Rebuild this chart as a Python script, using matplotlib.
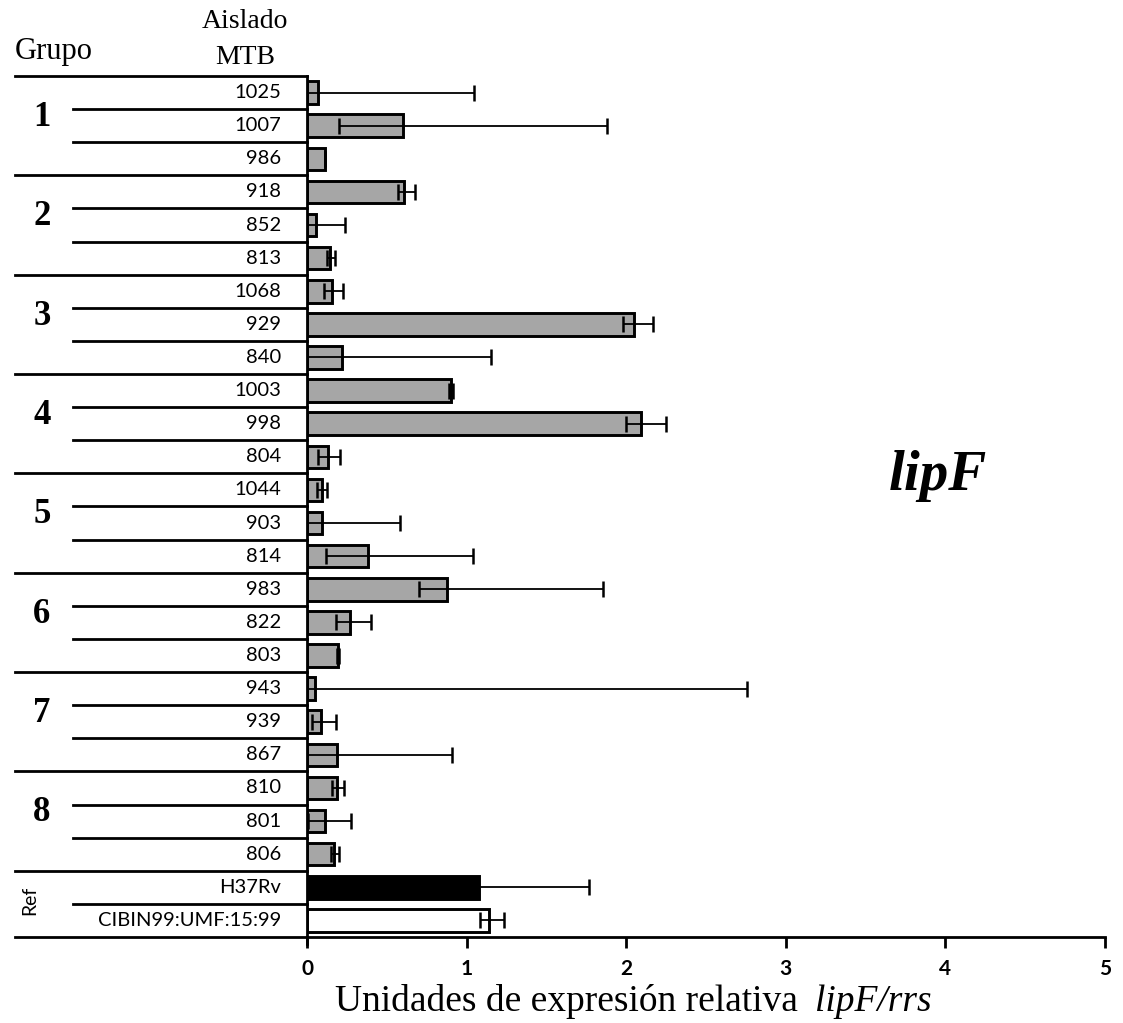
import matplotlib
matplotlib.use('Agg')
import matplotlib.pyplot as plt
import matplotlib.transforms as mtransforms
import numpy as np

# isolates, top to bottom
isolates = ['1025', '1007', '986', '918', '852', '813', '1068', '929', '840',
            '1003', '998', '804', '1044', '903', '814', '983', '822', '803',
            '943', '939', '867', '810', '801', '806', 'H37Rv', 'CIBIN99:UMF:15:99']
# relative expression lipF/rrs
values = [0.07, 0.60, 0.113, 0.61, 0.055, 0.146, 0.155, 2.05, 0.22,
          0.90, 2.095, 0.13, 0.092, 0.092, 0.384, 0.88, 0.267, 0.195,
          0.052, 0.085, 0.19, 0.19, 0.11, 0.17, 1.08, 1.142]
# error bar ends (low / high)
err_low = [0.0, 0.20, 0.113, 0.57, 0.0, 0.128, 0.107, 1.98, 0.0,
           0.887, 1.997, 0.07, 0.063, 0.0, 0.119, 0.70, 0.18, 0.19,
           0.0, 0.03, 0.0, 0.155, 0.005, 0.148, 0.40, 1.084]
err_high = [1.045, 1.88, 0.113, 0.675, 0.24, 0.178, 0.227, 2.17, 1.15,
            0.917, 2.25, 0.204, 0.125, 0.585, 1.04, 1.857, 0.40, 0.20,
            2.76, 0.18, 0.91, 0.23, 0.275, 0.20, 1.765, 1.232]
groups = ['1', '2', '3', '4', '5', '6', '7', '8', 'Ref']
group_sizes = [3, 3, 3, 3, 3, 3, 3, 3, 2]
colors = ['#a6a6a6'] * 24 + ['black', 'white']
xticks = [0, 1, 2, 3, 4, 5]

fig = plt.figure(figsize=(11.23, 10.23), dpi=100)
ax = fig.add_axes([307/1123, 1-937/1023, 798/1123, 861/1023])

y = np.arange(len(isolates))
vals = np.array(values)
xerr = [vals - np.array(err_low), np.array(err_high) - vals]
ax.barh(y, vals, height=0.68, color=colors, edgecolor='black', linewidth=2.1, zorder=2)
ax.errorbar(vals, y, xerr=xerr, fmt='none', ecolor='black', elinewidth=1.3,
            capsize=5.5, capthick=1.8, zorder=3)

ax.set_ylim(len(isolates) - 0.5, -0.5)
ax.set_xlim(0, 5)
ax.set_yticks([])
ax.set_xticks(xticks)
ax.set_xticklabels([str(t) for t in xticks], fontfamily='Lato', fontweight='bold', fontsize=15)
ax.tick_params(axis='x', direction='out', length=8, width=2, pad=8)
for s in ['top', 'right']:
    ax.spines[s].set_visible(False)
ax.spines['left'].set_linewidth(2)
ax.spines['bottom'].set_linewidth(2)
ax.spines['left'].set_bounds(len(isolates) - 0.3, -0.5)

# left table
tr = mtransforms.blended_transform_factory(fig.transFigure, ax.transData)
x_full = 15/1123
x_inner = 73/1123
x_axis = 307/1123
start = 0
for g, n in zip(groups, group_sizes):
    ax.plot([x_full, x_axis], [start - 0.5, start - 0.5], color='black', lw=2,
            transform=tr, clip_on=False)
    for k in range(1, n):
        ax.plot([x_inner, x_axis], [start + k - 0.5, start + k - 0.5], color='black', lw=2,
                transform=tr, clip_on=False)
    if g == 'Ref':
        ax.text(30/1123, start + 0.4, g, transform=tr, rotation=90, ha='center', va='center',
                fontfamily='Lato', fontsize=14)
    else:
        ax.text(42/1123, start + 0.75, g, transform=tr, ha='center', va='center',
                fontfamily='Liberation Serif', fontweight='bold', fontsize=25)
    start += n
ax.plot([x_full, x_axis], [start - 0.5, start - 0.5], color='black', lw=2,
        transform=tr, clip_on=False)

for i, name in enumerate(isolates):
    ax.text(281/1123, i, name, transform=tr, ha='right', va='center',
            fontfamily='Lato', fontsize=14.5)

# headers
fig.text(15/1123, 1-52/1023, 'Grupo', ha='left', va='center',
         fontfamily='Liberation Serif', fontsize=22)
fig.text(245/1123, 1-22/1023, 'Aislado', ha='center', va='center',
         fontfamily='Liberation Serif', fontsize=20)
fig.text(245/1123, 1-57/1023, 'MTB', ha='center', va='center',
         fontfamily='Liberation Serif', fontsize=20)

fig.text(938/1123, 1-476/1023, 'lipF', ha='center', va='center',
         fontfamily='Liberation Serif', fontweight='bold', fontstyle='italic', fontsize=41)

# x label: regular part + italic part
t1 = fig.text(335/1123, 1-1011/1023, 'Unidades de expresión relativa', ha='left', va='baseline',
              fontfamily='Liberation Serif', fontsize=27)
ax.annotate('lipF/rrs', xy=(1, 0), xycoords=t1, xytext=(12, 0), textcoords='offset points',
            ha='left', va='bottom', fontfamily='Liberation Serif', fontstyle='italic', fontsize=27,
            annotation_clip=False)

fig.savefig('out.png', dpi=100)
